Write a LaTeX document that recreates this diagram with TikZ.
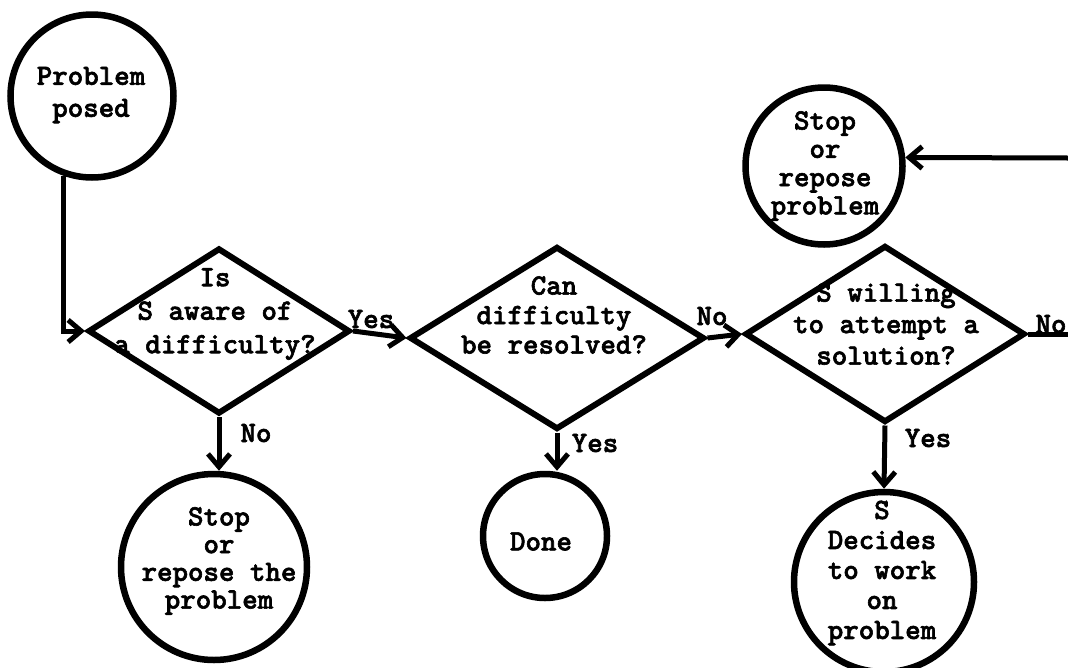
\documentclass[tikz,border=0pt]{standalone}
\usepackage{fontspec}
\newfontfamily\tw[FakeBold=2]{lmmonolt10-bold.otf}
\newcommand\twf[1]{\tw\fontsize{29.5}{#1}\selectfont}
\usetikzlibrary{shapes.geometric,arrows.meta}
\begin{document}
\begin{tikzpicture}[x=1pt,y=-1pt,
  circ/.style={draw,circle,line width=6.5pt,inner sep=0pt},
  dia/.style={draw,diamond,line width=6pt,inner sep=0pt},
  txt/.style={align=center,inner sep=0pt},
  lab/.style={anchor=base,inner sep=0pt,font=\twf{31}},
  conn/.style={line width=5pt},
  arr/.style={conn,-{Straight Barb[length=13pt,width=22pt]}}]
\useasboundingbox (0,0) rectangle (1068,667);

% circles
\node[circ,minimum size=163] (pp) at (92,96) {};
\node[txt,font=\twf{32}] (ppt) at (91,95) {Problem\\posed};

\node[circ,minimum size=157] (sr) at (824,166) {};
\node[txt,font=\twf{28.3}] (srt) at (825,166) {Stop\\or\\repose\\problem};

\node[circ,minimum size=186] (st1) at (214,567) {};
\node[txt,font=\twf{27.7}] (st1t) at (219,561) {Stop\\or\\repose the\\problem};

\node[circ,minimum size=124] (done) at (545,536) {};
\node[txt,font=\twf{30}] (donet) at (541,541.5) {Done};

\node[circ,minimum size=180] (sd) at (884,582) {};
\node[txt,font=\twf{30}] (sdt) at (882,573) {S\\Decides\\to work\\on\\problem};

% diamonds
\node[dia,minimum width=262,minimum height=166] (d1) at (219,331) {};
\node[txt,font=\twf{33.5}] (d1t) at (215,314) {Is\\S aware of\\a difficulty?};

\node[dia,minimum width=295,minimum height=183] (d2) at (557,338) {};
\node[txt,font=\twf{29.5}] (d2t) at (554,315) {Can\\difficulty\\be resolved?};

\node[dia,minimum width=280,minimum height=177] (d3) at (885,334) {};
\node[txt,font=\twf{31.5}] (d3t) at (886,324) {S willing\\to attempt a\\solution?};

% connectors
\coordinate (e1) at (1068,334);
\coordinate (e2) at (1068,158);
\draw[arr] (pp.250) |- (d1.west);
\draw[arr] (d1.east) -- (d2.west);
\draw[arr] (d2.east) -- (d3.west);
\draw[conn] (d3.east) -- (e1);
\draw[arr] (e2) -- (sr.6);
\draw[arr] (d1.south) -- (d1.south |- st1.north);
\draw[arr] (d2.south) -- (d2.south |- done.north);
\draw[arr] (d3.south) -- (sd.north);

% labels
\node[lab] (l1) at (371,328) {Yes};
\node[lab] (l2) at (712,325) {No};
\node[lab] (l3) at (1051,333) {No};
\node[lab] (l4) at (256,442) {No};
\node[lab] (l5) at (595,452) {Yes};
\node[lab] (l6) at (928,447) {Yes};
\end{tikzpicture}
\end{document}
